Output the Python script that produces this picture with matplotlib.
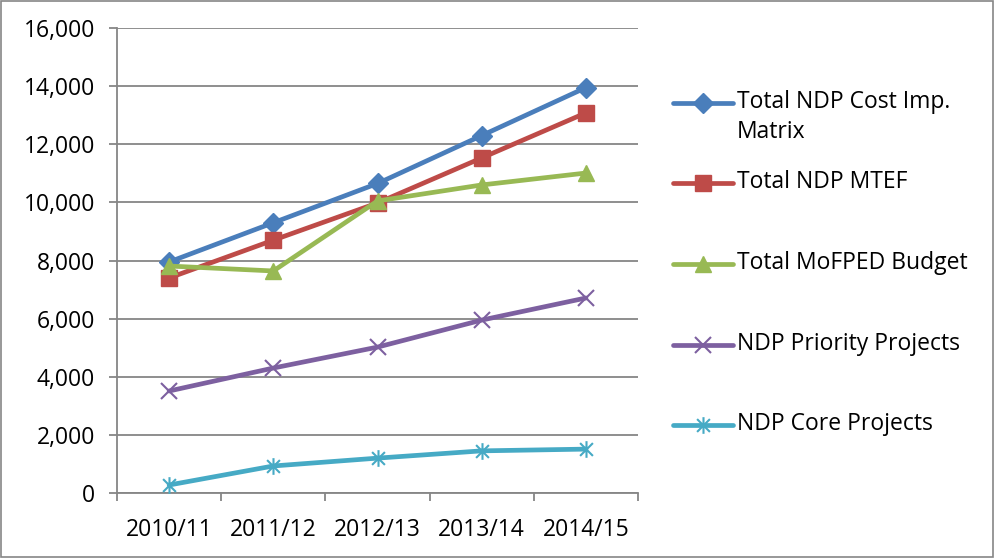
import matplotlib
matplotlib.use("Agg")
import matplotlib.pyplot as plt
from matplotlib.lines import Line2D
from matplotlib.patches import Rectangle
from matplotlib.path import Path
from matplotlib.ticker import FuncFormatter, FixedLocator
import numpy as np

years = ["2010/11", "2011/12", "2012/13", "2013/14", "2014/15"]
cost_matrix = [7950, 9300, 10650, 12300, 13950]
ndp_mtef = [7400, 8700, 9980, 11530, 13080]
mofped_budget = [7810, 7640, 10050, 10600, 11010]
priority_projects = [3510, 4300, 5020, 5950, 6710]
core_projects = [275, 930, 1200, 1450, 1510]

labels = ["Total NDP Cost Imp.\nMatrix", "Total NDP MTEF", "Total MoFPED Budget",
          "NDP Priority Projects", "NDP Core Projects"]

plt.rcParams['font.family'] = ['Open Sans', 'DejaVu Sans']
FS = 16.5

# excel style star: x with a vertical bar
star = Path([(-1, -1), (1, 1), (-1, 1), (1, -1), (0, -1.3), (0, 1.3)],
            [Path.MOVETO, Path.LINETO, Path.MOVETO, Path.LINETO, Path.MOVETO, Path.LINETO])

styles = [
    dict(color="#4A7EBB", marker="D", ms=10),
    dict(color="#BE4B48", marker="s", ms=11),
    dict(color="#98B954", marker="^", ms=12),
    dict(color="#7D60A0", marker="x", ms=11, mew=1.5),
    dict(color="#46AAC5", marker=star, ms=12, mew=1.5),
]
series = [cost_matrix, ndp_mtef, mofped_budget, priority_projects, core_projects]

fig = plt.figure(figsize=(9.96, 5.58), dpi=100)
ax = fig.add_axes([0.1175, 0.1165, 0.5231, 0.8333])

x = np.arange(len(years))
for vals, st in zip(series, styles):
    ax.plot(x, vals, lw=3.4, solid_capstyle="round", zorder=3, **st)

ax.set_xlim(-0.5, len(years) - 0.5)
ax.set_ylim(0, 16000)
ax.set_yticks(range(0, 16001, 2000))
ax.yaxis.set_major_formatter(FuncFormatter(lambda v, p: f"{int(v):,}"))
ax.grid(axis="y", color="#868686", lw=1.3)
ax.set_axisbelow(True)

ax.set_xticks(x)
ax.set_xticklabels(years)
ax.xaxis.set_minor_locator(FixedLocator(np.arange(-0.5, len(years), 1)))
ax.tick_params(axis="x", which="major", length=0, pad=18, labelsize=FS)
ax.tick_params(axis="x", which="minor", length=6, width=1.3, color="#868686")
ax.tick_params(axis="y", length=6, width=1.3, color="#868686", labelsize=FS, pad=10)

for s in ["top", "right"]:
    ax.spines[s].set_visible(False)
for s in ["left", "bottom"]:
    ax.spines[s].set_color("#868686")
    ax.spines[s].set_linewidth(1.3)

# legend drawn beside the plot
leg_y = [103, 183, 264, 345, 425]
for lab, st, yy in zip(labels, styles, leg_y):
    yf = 1 - yy / 558
    fig.add_artist(Line2D([673 / 996, 733 / 996], [yf, yf], transform=fig.transFigure,
                          color=st["color"], lw=3.4, solid_capstyle="round"))
    fig.add_artist(Line2D([703 / 996], [yf], transform=fig.transFigure, color=st["color"],
                          marker=st["marker"], ms=st["ms"], mew=st.get("mew", 1), lw=0))
    for i, line in enumerate(lab.split("\n")):
        fig.text(737 / 996, yf - (i * 30 - 1) / 558, line, fontsize=FS,
                 va="center", ha="left")

fig.add_artist(Rectangle((0.001, 0.002), 0.996, 0.996, transform=fig.transFigure,
                         fill=False, edgecolor="#868686", lw=1.2))

fig.savefig("out.png", dpi=100)
